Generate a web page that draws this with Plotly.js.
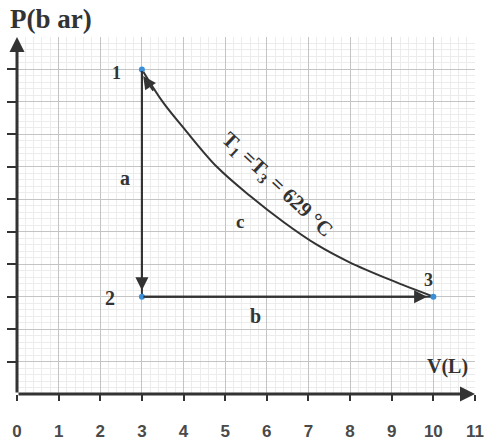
<!DOCTYPE html>
<html>
<head>
<meta charset="utf-8">
<script src="https://cdn.plot.ly/plotly-3.0.1.min.js"></script>
<style>html,body{margin:0;padding:0;background:#fff;}#chart{width:499px;height:443px;}</style>
</head>
<body>
<div id="chart"></div>
<script>
// State points of the cycle
const stateNames = ["1", "2", "3"];
const stateV = [3, 3, 10];
const stateP = [10, 3, 3];
// Isotherm c
const curveV = [3, 3.5, 4, 4.8, 5.6, 6.4, 7.2, 8, 9, 10];
const curveP = [10, 9.0, 8.2, 7.0, 6.1, 5.3, 4.6, 4.05, 3.5, 3.0];
// Axis ticks
const xTicks = [0, 1, 2, 3, 4, 5, 6, 7, 8, 9, 10, 11];
const yTicks = [1, 2, 3, 4, 5, 6, 7, 8, 9, 10];

const ink = "#333";
const serif = "Liberation Serif, Times New Roman, serif";

const traces = [
  // a : 1 -> 2 (isochoric)
  {x: [stateV[0], stateV[1]], y: [stateP[0], stateP[1]], mode: "lines",
   line: {color: ink, width: 2}, hoverinfo: "skip"},
  // b : 2 -> 3 (isobaric)
  {x: [stateV[1], stateV[2]], y: [stateP[1], stateP[2]], mode: "lines",
   line: {color: ink, width: 2}, hoverinfo: "skip"},
  // c : isotherm
  {x: curveV, y: curveP, mode: "lines", line: {color: ink, width: 2, shape: "spline"},
   hoverinfo: "skip"},
  // points
  {x: stateV, y: stateP, mode: "markers", marker: {color: "#3b8fd8", size: 6},
   hoverinfo: "skip"}
];

const arrow = (x, y, ax, ay, w, hs) => ({
  x: x, y: y, ax: ax, ay: ay, xref: "x", yref: "y", axref: "x", ayref: "y",
  showarrow: true, arrowhead: 2, arrowsize: hs, arrowwidth: w, arrowcolor: ink, text: ""
});
const label = (t, x, y, size, extra) => Object.assign({
  x: x, y: y, xref: "x", yref: "y", text: t, showarrow: false,
  font: {family: serif, size: size, color: ink, weight: "bold"}
}, extra || {});

const annotations = [
  // axes with arrows
  arrow(11, 0, 0, 0, 3, 1),
  arrow(0, 11, 0, 0, 3, 1),
  // process arrows
  arrow(stateV[1], 3.2, stateV[0], stateP[0], 2, 1.3),
  arrow(9.85, stateP[2], stateV[1], stateP[1], 2, 1.3),
  arrow(3.03, 9.8, 3.3, 9.3, 2, 1.3),
  // point labels
  label(stateNames[0], 2.4, 9.9, 18),
  label(stateNames[1], 2.24, 2.95, 20),
  label(stateNames[2], 9.88, 3.5, 18),
  label("a", 2.6, 6.65, 20),
  label("b", 5.72, 2.4, 20),
  label("c", 5.35, 5.3, 19),
  label("T<sub>1</sub> =T<sub>3</sub> = 629 °C", 6.25, 6.45, 21, {textangle: 43}),
  label("V(L)", 10.34, 0.86, 20)
];

const layout = {
  width: 499, height: 443,
  margin: {l: 17, r: 24, t: 37, b: 49},
  paper_bgcolor: "#ffffff", plot_bgcolor: "#ffffff",
  showlegend: false,
  title: {text: "P(b ar)", x: 0.02, xanchor: "left", y: 0.957, yanchor: "middle",
          font: {family: serif, size: 27, color: ink, weight: "bold"}},
  xaxis: {range: [0, 11], tickmode: "array", tickvals: xTicks, ticktext: xTicks.map(String),
          showgrid: true, gridcolor: "#c4c4c4", gridwidth: 1, zeroline: false, showline: false,
          ticks: "outside", ticklen: 6, tickwidth: 2, tickcolor: ink,
          ticklabelstandoff: 16,
          tickfont: {family: "Liberation Sans, Arial, sans-serif", size: 17, color: "#4a4a4a", weight: "bold"},
          minor: {dtick: 0.2, showgrid: true, gridcolor: "#ececec", gridwidth: 1},
          fixedrange: true},
  yaxis: {range: [0, 11], tickmode: "array", tickvals: yTicks, showticklabels: false,
          showgrid: true, gridcolor: "#c4c4c4", gridwidth: 1, zeroline: false, showline: false,
          ticks: "outside", ticklen: 9, tickwidth: 2, tickcolor: ink,
          minor: {dtick: 0.2, showgrid: true, gridcolor: "#ececec", gridwidth: 1},
          fixedrange: true},
  annotations: annotations
};

Plotly.newPlot("chart", traces, layout, {displayModeBar: false, staticPlot: true});
</script>
</body>
</html>
